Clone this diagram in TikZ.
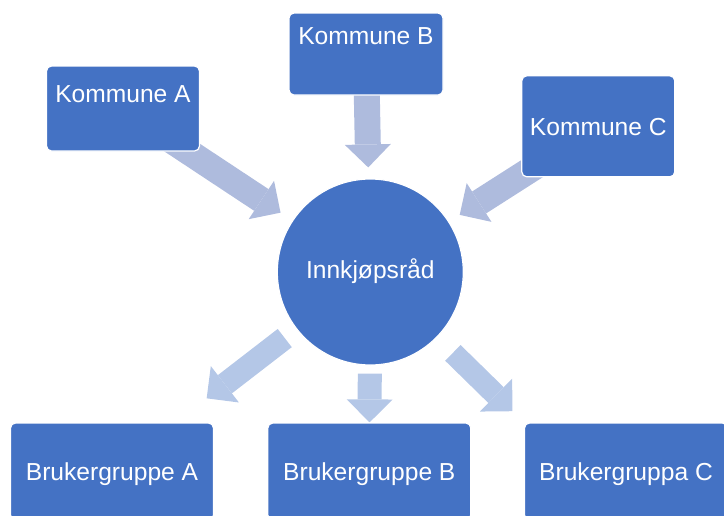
\documentclass[tikz,border=0pt]{standalone}
\usepackage{fontspec}
\setmainfont{Liberation Sans}
\usetikzlibrary{arrows.meta}
\usetikzlibrary{backgrounds}
\definecolor{boxblue}{HTML}{4472C4}
\definecolor{arrowin}{HTML}{AEBBDD}
\definecolor{arrowout}{HTML}{B4C7E7}
\tikzset{
   unit/.style={draw=white, line width=1.2pt, fill=boxblue, rounded corners=5pt,
      text=white, inner sep=0pt, text height=17.5pt, text depth=0pt,
      font=\fontsize{24.6}{29}\selectfont},
   council/.style={unit, minimum width=153pt},
   usergroup/.style={unit, minimum width=203pt, minimum height=97pt},
   fatarrow/.style={line width=26pt,
      -{Triangle[width=46pt,length=23pt,line width=0pt]}}
}
\begin{document}
\begin{tikzpicture}[x=1pt,y=-1pt]
		\useasboundingbox (0,0) rectangle (724,515);
		% kommunene
		\node[council, minimum height=85pt, text depth=28.6pt] (ka) at (123,108.5) {Kommune A};
		\node[council, minimum width=154pt, minimum height=82pt, text depth=36pt] (kb) at (366,54) {Kommune B};
		\node[council, minimum height=101pt] (kc) at (598.3,126.3) {Kommune C};
		% innkjopsradet
		\node[unit, circle, minimum size=186pt, text depth=5pt] (rad) at (370.3,272) {Innkjøpsråd};
		% brukergruppene
		\node[usergroup] (ba) at (112,471.5) {Brukergruppe A};
		\node[usergroup] (bb) at (369.3,471.5) {Brukergruppe B};
		\node[usergroup] (bc) at (626,471.5) {Brukergruppa C};
		\begin{scope}[on background layer]
			\draw[fatarrow, arrowin, shorten >=14pt] (ka.center) -- (rad);
			\draw[fatarrow, arrowin, shorten >=11pt] (kb.center) -- (rad);
			\draw[fatarrow, arrowin, shorten >=12.5pt] (kc.center) -- (rad);
			\draw[fatarrow, arrowout, line width=23pt, shorten <=14.5pt, shorten >=39.4pt] (rad) -- (ba);
			\draw[fatarrow, arrowout, line width=24pt, shorten <=8pt] (rad) -- (bb);
			\draw[fatarrow, arrowout, line width=22pt, shorten <=22pt, shorten >=16pt] (rad) -- (bc.north west);
		\end{scope}
\end{tikzpicture}
\end{document}
